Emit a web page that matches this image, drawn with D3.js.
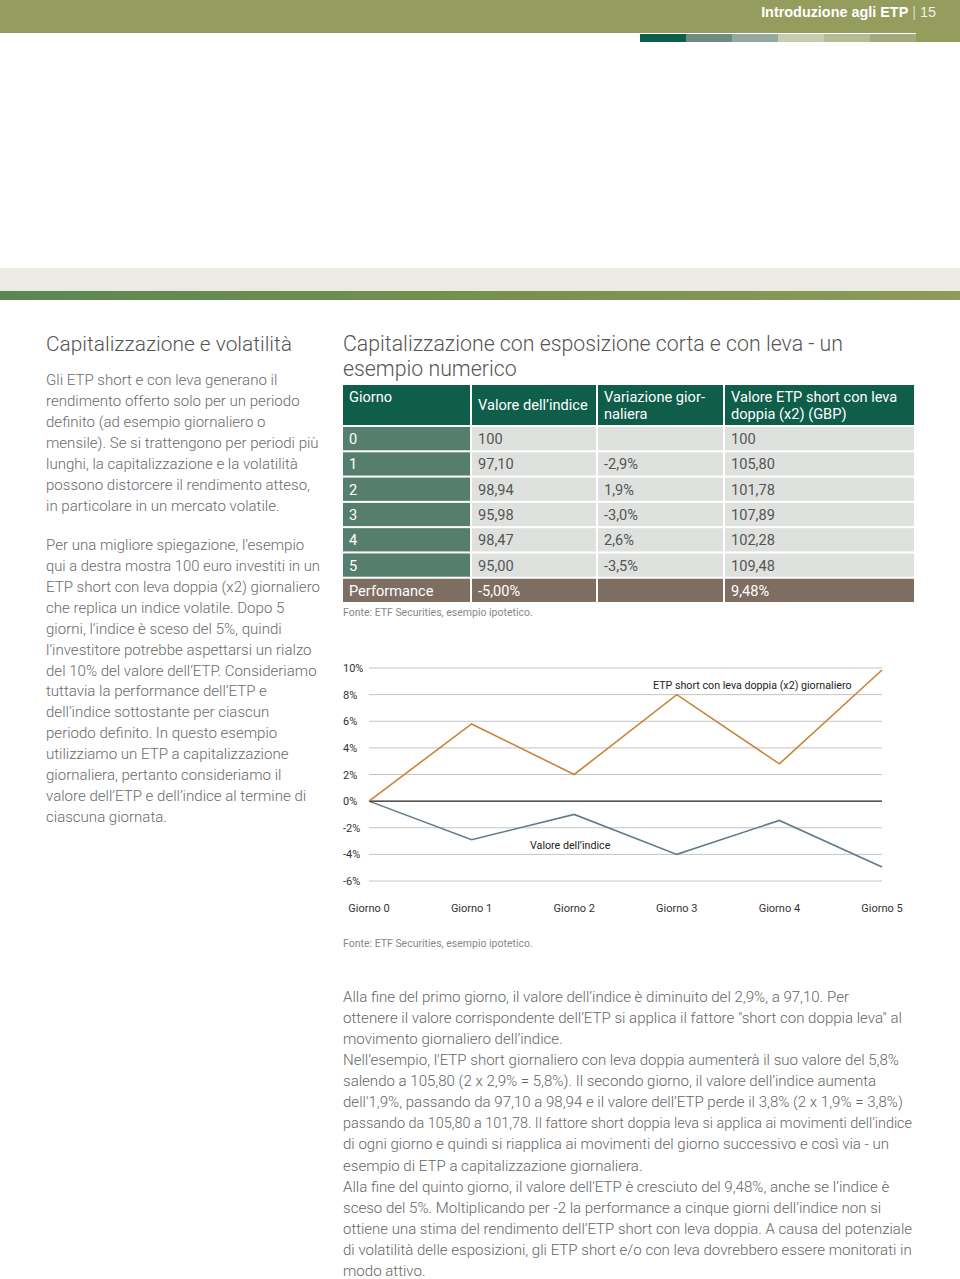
<!DOCTYPE html>
<html><head><meta charset="utf-8">
<script src="https://cdn.jsdelivr.net/npm/d3@7"></script>
<style>
html,body{margin:0;padding:0;background:#fff;}
svg{display:block;font-family:Roboto,"Liberation Sans",Arial,sans-serif;}
</style></head><body>
<svg id="page" width="960" height="1279"></svg>
<script>
// ---------- data ----------
const days = ["Giorno 0","Giorno 1","Giorno 2","Giorno 3","Giorno 4","Giorno 5"];
const etpPerf = [0, 5.8, 2.0, 8.0, 2.8, 9.85];
const indexPerf = [0, -2.9, -1.0, -4.0, -1.45, -4.95];
const yTicks = [10, 8, 6, 4, 2, 0, -2, -4, -6];

const tableHeaders = [["Giorno"], ["Valore dell\u2019indice"], ["Variazione gior-", "naliera"], ["Valore ETP short con leva", "doppia (x2) (GBP)"]];
const giorni = ["0","1","2","3","4","5"];
const valoreIndice = ["100","97,10","98,94","95,98","98,47","95,00"];
const variazione = ["","-2,9%","1,9%","-3,0%","2,6%","-3,5%"];
const valoreEtp = ["100","105,80","101,78","107,89","102,28","109,48"];
const performance = ["Performance","-5,00%","","9,48%"];

const stripColors = ["#0d5e4b","#6f8b7f","#94a8a2","#c9ccb2","#b7bb94","#a3a97c"];

const leftTitle = "Capitalizzazione e volatilit\u00e0";
const leftPara1 = ["Gli ETP short e con leva generano il","rendimento offerto solo per un periodo","definito (ad esempio giornaliero o","mensile). Se si trattengono per periodi pi\u00f9","lunghi, la capitalizzazione e la volatilit\u00e0","possono distorcere il rendimento atteso,","in particolare in un mercato volatile."];
const leftPara2 = ["Per una migliore spiegazione, l\u2019esempio","qui a destra mostra 100 euro investiti in un","ETP short con leva doppia (x2) giornaliero","che replica un indice volatile. Dopo 5","giorni, l\u2019indice \u00e8 sceso del 5%, quindi","l\u2019investitore potrebbe aspettarsi un rialzo","del 10% del valore dell\u2019ETP. Consideriamo","tuttavia la performance dell\u2019ETP e","dell\u2019indice sottostante per ciascun","periodo definito. In questo esempio","utilizziamo un ETP a capitalizzazione","giornaliera, pertanto consideriamo il","valore dell\u2019ETP e dell\u2019indice al termine di","ciascuna giornata."];
const rightTitle = ["Capitalizzazione con esposizione corta e con leva - un","esempio numerico"];
const bottomPara = ["Alla fine del primo giorno, il valore dell\u2019indice \u00e8 diminuito del 2,9%, a 97,10. Per","ottenere il valore corrispondente dell\u2019ETP si applica il fattore \"short con doppia leva\" al","movimento giornaliero dell\u2019indice.","Nell\u2019esempio, l'ETP short giornaliero con leva doppia aumenter\u00e0 il suo valore del 5,8%","salendo a 105,80 (2 x 2,9% = 5,8%). Il secondo giorno, il valore dell\u2019indice aumenta","dell'1,9%, passando da 97,10 a 98,94 e il valore dell\u2019ETP perde il 3,8% (2 x 1,9% = 3,8%)","passando da 105,80 a 101,78. Il fattore short doppia leva si applica ai movimenti dell\u2019indice","di ogni giorno e quindi si riapplica ai movimenti del giorno successivo e cos\u00ec via - un","esempio di ETP a capitalizzazione giornaliera.","Alla fine del quinto giorno, il valore dell'ETP \u00e8 cresciuto del 9,48%, anche se l\u2019indice \u00e8","sceso del 5%. Moltiplicando per -2 la performance a cinque giorni dell\u2019indice non si","ottiene una stima del rendimento dell\u2019ETP short con leva doppia. A causa del potenziale","di volatilit\u00e0 delle esposizioni, gli ETP short e/o con leva dovrebbero essere monitorati in","modo attivo."];
const source = "Fonte: ETF Securities, esempio ipotetico.";

// ---------- page ----------
const svg = d3.select("#page");
const defs = svg.append("defs");
const grad = defs.append("linearGradient").attr("id","g1").attr("x1","0").attr("x2","1");
grad.append("stop").attr("offset","0").attr("stop-color","#5a8752");
grad.append("stop").attr("offset","0.5").attr("stop-color","#76904f");
grad.append("stop").attr("offset","1").attr("stop-color","#8f9a5c");

// header
svg.append("rect").attr("x",0).attr("y",0).attr("width",960).attr("height",33).attr("fill","#949d5e");
svg.append("rect").attr("x",916).attr("y",33).attr("width",44).attr("height",9).attr("fill","#949d5e");
const stripX = d3.scaleBand().domain(d3.range(stripColors.length)).range([640,916]);
svg.selectAll("rect.strip").data(stripColors).join("rect").attr("class","strip")
  .attr("x",(d,i)=>stripX(i)).attr("y",34).attr("width",stripX.bandwidth()).attr("height",8).attr("fill",d=>d);
const ht = svg.append("text").attr("x",936).attr("y",17).attr("text-anchor","end").attr("font-size",14.4)
  .attr("font-family","'Liberation Sans',Arial,sans-serif").attr("fill","#fff");
ht.append("tspan").attr("font-weight","bold").text("Introduzione agli ETP");
ht.append("tspan").attr("fill","#d8dcc0").text(" | ");
ht.append("tspan").attr("fill","#eef0e0").text("15");

// band
svg.append("rect").attr("x",0).attr("y",268).attr("width",960).attr("height",23).attr("fill","#ebebe4");
svg.append("rect").attr("x",0).attr("y",291).attr("width",960).attr("height",9).attr("fill","url(#g1)");

// text blocks (lines wider than the column are fitted to it)
function para(lines, x, y0, lh, fs, color, maxW){
  const t = svg.append("g").selectAll("text").data(lines).join("text")
    .attr("x",x).attr("y",(d,i)=>y0+i*lh).attr("font-size",fs).attr("font-weight",300).attr("fill",color).text(d=>d);
  if (maxW) t.each(function(){ if (this.getComputedTextLength() > maxW) d3.select(this).attr("textLength",maxW).attr("lengthAdjust","spacingAndGlyphs"); });
}
para([leftTitle], 46, 351, 24, 20.9, "#555");
para(leftPara1, 46, 385, 21, 15.05, "#6a6a6a", 274);
para(leftPara2, 46, 550, 20.92, 15.05, "#6a6a6a", 274);

// right title
para(rightTitle, 343, 351, 24.5, 21.3, "#555");

// ---------- table ----------
const colX = [343, 472, 598, 725];
const colW = [127, 124, 125, 189];
const hdr = svg.append("g");
tableHeaders.forEach((lines,i)=>{
  hdr.append("rect").attr("x",colX[i]).attr("y",385).attr("width",colW[i]).attr("height",40).attr("fill","#0e5e4a");
  const yStart = lines.length===1 && i>0 ? 410 : 402;
  lines.forEach((l,j)=>{
    hdr.append("text").attr("x",colX[i]+6).attr("y",yStart+j*17).attr("font-size",14.6).attr("fill","#fff").text(l);
  });
});
const rows = giorni.map((g,i)=>[g, valoreIndice[i], variazione[i], valoreEtp[i]]);
const rowY = d3.scaleBand().domain(d3.range(rows.length+1)).range([427, 602]).paddingInner(2/25);
const body = svg.append("g");
rows.forEach((r,ri)=>{
  r.forEach((c,ci)=>{
    body.append("rect").attr("x",colX[ci]).attr("y",rowY(ri)).attr("width",colW[ci]).attr("height",rowY.bandwidth())
      .attr("fill", ci===0 ? "#557e6e" : "#dfe1df");
    body.append("text").attr("x",colX[ci]+6).attr("y",rowY(ri)+rowY.bandwidth()/2+5.5).attr("font-size",14.6)
      .attr("fill", ci===0 ? "#fff" : "#555").text(c);
  });
});
performance.forEach((c,ci)=>{
  const ri = rows.length;
  body.append("rect").attr("x",colX[ci]).attr("y",rowY(ri)).attr("width",colW[ci]).attr("height",rowY.bandwidth()).attr("fill","#7d6e61");
  body.append("text").attr("x",colX[ci]+6).attr("y",rowY(ri)+rowY.bandwidth()/2+5.5).attr("font-size",14.6).attr("fill","#fff").text(c);
});
svg.append("text").attr("x",343).attr("y",616).attr("font-size",10.5).attr("fill","#888").text(source);

// ---------- chart ----------
const x = d3.scalePoint().domain(days).range([369, 882]);
const y = d3.scaleLinear().domain([-6, 10]).range([881, 668]);
const chart = svg.append("g");
chart.selectAll("line.grid").data(yTicks.filter(t=>t!==0)).join("line").attr("class","grid")
  .attr("x1",x.range()[0]).attr("x2",x.range()[1]).attr("y1",d=>y(d)).attr("y2",d=>y(d)).attr("stroke","#c4c4c4").attr("stroke-width",1);
chart.selectAll("text.yl").data(yTicks).join("text").attr("class","yl")
  .attr("x",343).attr("y",d=>y(d)+4).attr("font-size",11).attr("fill","#333").text(d=>d+"%");
const line = d3.line().x((d,i)=>x(days[i])).y(d=>y(d));
chart.append("path").datum(indexPerf).attr("d",line).attr("fill","none").attr("stroke","#5f7b8e").attr("stroke-width",1.6);
chart.append("line").attr("x1",x.range()[0]).attr("x2",x.range()[1]).attr("y1",y(0)).attr("y2",y(0)).attr("stroke","#222").attr("stroke-width",1.3);
chart.append("path").datum(etpPerf).attr("d",line).attr("fill","none").attr("stroke","#c8843a").attr("stroke-width",1.6);
chart.selectAll("text.xl").data(days).join("text").attr("class","xl")
  .attr("x",d=>x(d)).attr("y",912).attr("text-anchor","middle").attr("font-size",11).attr("fill","#333").text(d=>d);
chart.append("text").attr("x",653).attr("y",689).attr("font-size",10.7).attr("fill","#222").text("ETP short con leva doppia (x2) giornaliero");
chart.append("text").attr("x",530).attr("y",849).attr("font-size",10.7).attr("fill","#222").text("Valore dell\u2019indice");
svg.append("text").attr("x",343).attr("y",947).attr("font-size",10.5).attr("fill","#888").text(source);

// bottom paragraph
para(bottomPara, 343, 1002, 21.07, 15.05, "#666", 569);
</script>
</body></html>
